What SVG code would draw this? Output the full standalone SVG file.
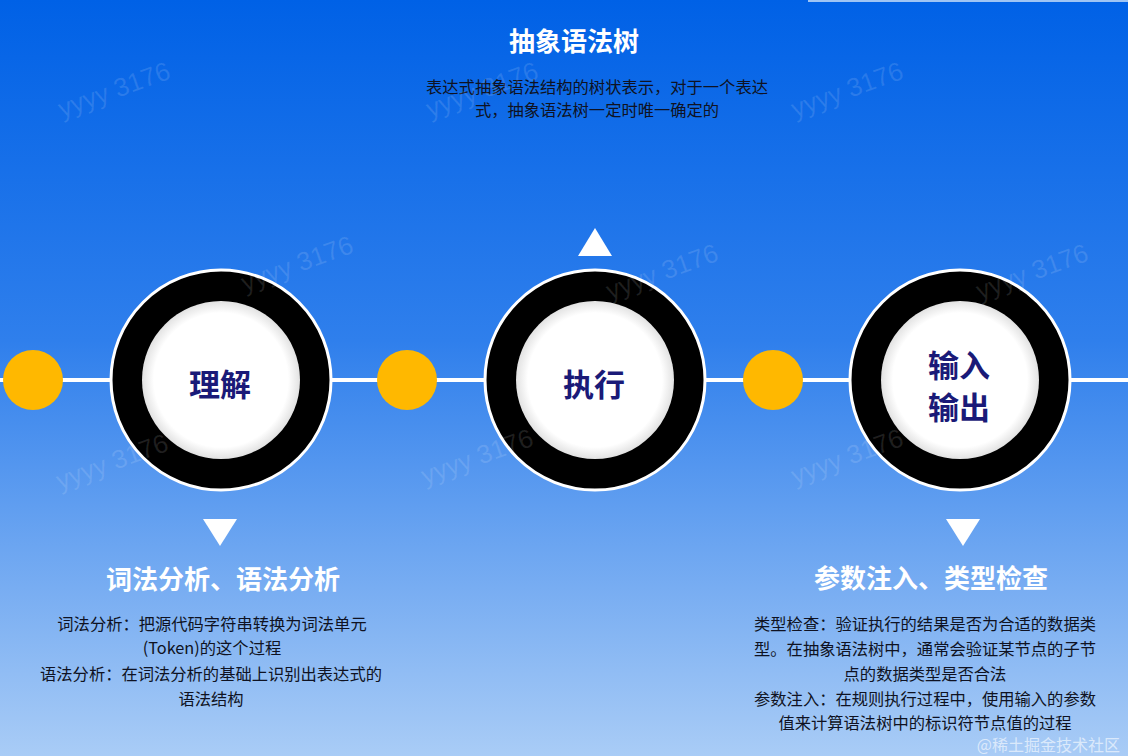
<svg xmlns="http://www.w3.org/2000/svg" width="1128" height="756" viewBox="0 0 1128 756">
<defs>
<linearGradient id="bg" x1="0" y1="0" x2="0" y2="1">
<stop offset="0" stop-color="#0061e6"/>
<stop offset="0.45" stop-color="#2f7fec"/>
<stop offset="1" stop-color="#a9ccf6"/>
</linearGradient>
<radialGradient id="inner" cx="0.5" cy="0.5" r="0.5">
<stop offset="0.85" stop-color="#ffffff"/>
<stop offset="1" stop-color="#e2e2e2"/>
</radialGradient>
<style>
.cjk{font-family:"Noto Sans CJK SC","Noto Sans",sans-serif;}
.h{font-size:26px;font-weight:700;fill:#ffffff;text-anchor:middle;}
.b{font-size:16.3px;fill:#0f1222;text-anchor:middle;}
.c{font-size:31px;font-weight:700;fill:#1a1a78;text-anchor:middle;}
.wm{font-family:"Liberation Sans",sans-serif;font-size:26px;fill:#ffffff;fill-opacity:0.12;}
.ring-outer{fill:#000000;stroke:#ffffff;stroke-width:3;}
.ring-inner{fill:url(#inner);}
.dot{fill:#ffb800;}
.tri{fill:#ffffff;}
</style>
</defs>
<rect width="1128" height="756" fill="url(#bg)"/>
<rect x="808" y="0" width="320" height="2" fill="#9ec4f4"/>
<g id="connectors">
<rect x="0" y="378" width="1128" height="4" fill="#ffffff"/>
</g>
<g id="dot1"><circle class="dot" cx="33" cy="380" r="30"/></g>
<g id="dot2"><circle class="dot" cx="407" cy="380" r="30"/></g>
<g id="dot3"><circle class="dot" cx="773" cy="380" r="30"/></g>
<g id="node-understand">
<circle class="ring-outer" cx="221" cy="380" r="110"/>
<circle class="ring-inner" cx="221" cy="380" r="79"/>
<text class="cjk c" x="220" y="396">理解</text>
</g>
<g id="node-execute">
<circle class="ring-outer" cx="595" cy="380" r="110"/>
<circle class="ring-inner" cx="595" cy="380" r="79"/>
<text class="cjk c" x="594" y="396">执行</text>
</g>
<g id="node-io">
<circle class="ring-outer" cx="960" cy="380" r="110"/>
<circle class="ring-inner" cx="960" cy="380" r="79"/>
<text class="cjk c" x="959" y="377" font-size="30">输入</text>
<text class="cjk c" x="959" y="419" font-size="30">输出</text>
</g>
<g id="ast">
<polygon class="tri" points="578,256 612,256 595,228"/>
<text class="cjk h" x="574" y="51">抽象语法树</text>
<text class="cjk b" x="597" y="93">表达式抽象语法结构的树状表示，对于一个表达</text>
<text class="cjk b" x="597" y="116">式，抽象语法树一定时唯一确定的</text>
</g>
<g id="lex-syntax">
<polygon class="tri" points="203,519 237,519 220,546"/>
<text class="cjk h" x="223" y="589">词法分析、语法分析</text>
<text class="cjk b" x="212" y="630">词法分析：把源代码字符串转换为词法单元</text>
<text class="cjk b" x="212" y="654">(Token)的这个过程</text>
<text class="cjk b" x="211" y="680">语法分析：在词法分析的基础上识别出表达式的</text>
<text class="cjk b" x="211" y="705">语法结构</text>
</g>
<g id="param-type">
<polygon class="tri" points="946,519 980,519 963,546"/>
<text class="cjk h" x="931" y="588">参数注入、类型检查</text>
<text class="cjk b" x="925" y="630">类型检查：验证执行的结果是否为合适的数据类</text>
<text class="cjk b" x="925" y="655">型。在抽象语法树中，通常会验证某节点的子节</text>
<text class="cjk b" x="925" y="680">点的数据类型是否合法</text>
<text class="cjk b" x="925" y="705">参数注入：在规则执行过程中，使用输入的参数</text>
<text class="cjk b" x="925" y="729">值来计算语法树中的标识符节点值的过程</text>
</g>
<g id="watermarks">
<text class="wm" transform="translate(62,118) rotate(-20)">yyyy 3176</text>
<text class="wm" transform="translate(430,118) rotate(-20)">yyyy 3176</text>
<text class="wm" transform="translate(795,118) rotate(-20)">yyyy 3176</text>
<text class="wm" transform="translate(245,292) rotate(-20)">yyyy 3176</text>
<text class="wm" transform="translate(610,300) rotate(-20)">yyyy 3176</text>
<text class="wm" transform="translate(980,300) rotate(-20)">yyyy 3176</text>
<text class="wm" transform="translate(60,490) rotate(-20)">yyyy 3176</text>
<text class="wm" transform="translate(425,485) rotate(-20)">yyyy 3176</text>
<text class="wm" transform="translate(795,485) rotate(-20)">yyyy 3176</text>
</g>
<text class="cjk" x="1120" y="751" text-anchor="end" font-size="16" fill="#ffffff" fill-opacity="0.6">@稀土掘金技术社区</text>
</svg>
